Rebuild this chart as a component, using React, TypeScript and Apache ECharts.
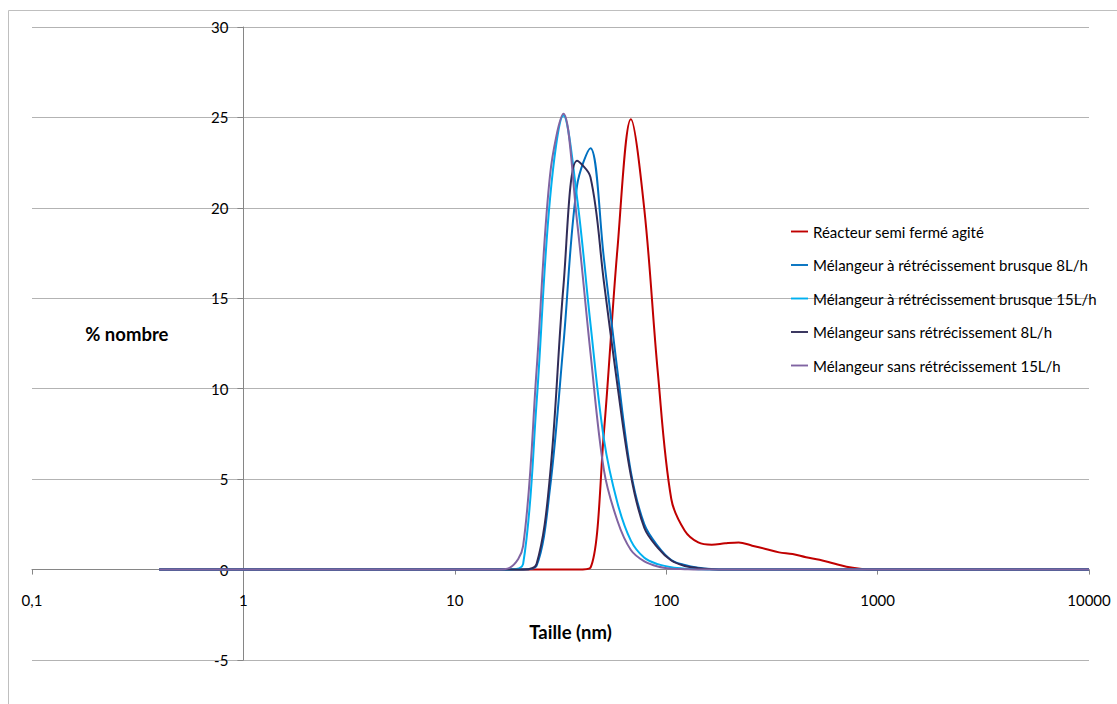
import React, { useEffect, useRef } from "react";
import * as echarts from "echarts";

// Size classes (nm)
const sizes = [
  0.4, 0.4632, 0.5365, 0.6213, 0.7195, 0.8332, 0.9649, 1.117, 1.294, 1.499,
  1.736, 2.01, 2.328, 2.696, 3.122, 3.615, 4.187, 4.849, 5.615, 6.503,
  7.531, 8.721, 10.1, 11.7, 13.54, 15.69, 18.17, 21.04, 24.36, 28.21,
  32.67, 37.84, 43.82, 50.75, 58.77, 68.06, 78.82, 91.28, 105.7, 122.4,
  141.8, 164.2, 190.1, 220.2, 255.0, 295.3, 342.0, 396.1, 458.7, 531.2,
  615.1, 712.4, 825.0, 955.4, 1106, 1281, 1484, 1718, 1990, 2305,
  2669, 3091, 3580, 4145, 4801, 5560, 6439, 7456, 8635, 10000,
];

const reacteur = [
  0, 0, 0, 0, 0, 0, 0, 0, 0, 0,
  0, 0, 0, 0, 0, 0, 0, 0, 0, 0,
  0, 0, 0, 0, 0, 0, 0, 0, 0, 0,
  0, 0, 0.1, 7.6, 17.7, 24.9, 19.9, 10.9, 3.9, 2.15,
  1.5, 1.37, 1.45, 1.5, 1.32, 1.14, 0.95, 0.86, 0.68, 0.54,
  0.35, 0.16, 0.05, 0, 0, 0, 0, 0, 0, 0,
  0, 0, 0, 0, 0, 0, 0, 0, 0, 0,
];

const brusque8 = [
  0, 0, 0, 0, 0, 0, 0, 0, 0, 0,
  0, 0, 0, 0, 0, 0, 0, 0, 0, 0,
  0, 0, 0, 0, 0, 0, 0, 0, 0.2, 4.5,
  12.5, 21.2, 23.3, 17.2, 11.0, 5.4, 2.5, 1.3, 0.53, 0.25,
  0.1, 0.03, 0, 0, 0, 0, 0, 0, 0, 0,
  0, 0, 0, 0, 0, 0, 0, 0, 0, 0,
  0, 0, 0, 0, 0, 0, 0, 0, 0, 0,
];

const brusque15 = [
  0, 0, 0, 0, 0, 0, 0, 0, 0, 0,
  0, 0, 0, 0, 0, 0, 0, 0, 0, 0,
  0, 0, 0, 0, 0, 0, 0, 0.3, 9.2, 20.5,
  25.1, 20.6, 13.6, 7.2, 3.7, 1.6, 0.65, 0.3, 0.13, 0.05,
  0.02, 0, 0, 0, 0, 0, 0, 0, 0, 0,
  0, 0, 0, 0, 0, 0, 0, 0, 0, 0,
  0, 0, 0, 0, 0, 0, 0, 0, 0, 0,
];

const sans8 = [
  0, 0, 0, 0, 0, 0, 0, 0, 0, 0,
  0, 0, 0, 0, 0, 0, 0, 0, 0, 0,
  0, 0, 0, 0, 0, 0, 0, 0, 0.3, 5.2,
  15.7, 22.6, 21.7, 15.9, 10.2, 5.2, 2.3, 1.2, 0.5, 0.2,
  0.08, 0.02, 0, 0, 0, 0, 0, 0, 0, 0,
  0, 0, 0, 0, 0, 0, 0, 0, 0, 0,
  0, 0, 0, 0, 0, 0, 0, 0, 0, 0,
];

const sans15 = [
  0, 0, 0, 0, 0, 0, 0, 0, 0, 0,
  0, 0, 0, 0, 0, 0, 0, 0, 0, 0,
  0, 0, 0, 0, 0, 0, 0.1, 1.3, 11.0, 21.8,
  25.2, 19.3, 12.0, 5.5, 2.7, 1.08, 0.45, 0.17, 0.05, 0.02,
  0, 0, 0, 0, 0, 0, 0, 0, 0, 0,
  0, 0, 0, 0, 0, 0, 0, 0, 0, 0,
  0, 0, 0, 0, 0, 0, 0, 0, 0, 0,
];

const seriesNames = [
  "Réacteur semi fermé agité",
  "Mélangeur à rétrécissement brusque 8L/h",
  "Mélangeur à rétrécissement brusque 15L/h",
  "Mélangeur sans rétrécissement 8L/h",
  "Mélangeur sans rétrécissement 15L/h",
];
const seriesValues = [reacteur, brusque8, brusque15, sans8, sans15];
const seriesColors = ["#c00000", "#0070c0", "#00b0f0", "#302c58", "#8064a2"];

const xTitle = "Taille (nm)";
const yTitle = "% nombre";

const FONT = "Lato, 'Open Sans', sans-serif";

export default function App() {
  const ref = useRef<HTMLDivElement>(null);

  useEffect(() => {
    if (!ref.current) return;
    const chart = echarts.init(ref.current, undefined, { renderer: "svg" });
    const fmtX = (v: number) =>
      String(Number(Number(v).toPrecision(6))).replace(".", ",");

    chart.setOption({
      animation: false,
      textStyle: { fontFamily: FONT, color: "#000" },
      graphic: [
        {
          type: "rect",
          shape: { x: 8.5, y: 10.5, width: 1120, height: 720 },
          style: { fill: "none", stroke: "#bfbfbf", lineWidth: 1 },
          silent: true,
          z: -10,
        },
      ],
      grid: { left: 32, right: 28, top: 27, bottom: 44, outerBoundsMode: "none", containLabel: false },
      legend: {
        orient: "vertical",
        left: 791,
        top: 224,
        padding: 0,
        itemWidth: 17,
        itemHeight: 14,
        itemGap: 18.5,
        icon: "path://M0,6 L18,6 L18,8 L0,8 Z",
        data: seriesNames.map((n, i) => ({
          name: n,
          itemStyle: { color: seriesColors[i] },
        })),
        textStyle: {
          fontFamily: FONT,
          fontSize: 15,
          color: "#000",
        },
      },
      xAxis: {
        type: "log",
        logBase: 10,
        min: 0.1,
        max: 10000,
        name: xTitle,
        nameLocation: "middle",
        nameGap: -38,
        nameTextStyle: {
          fontFamily: FONT,
          fontSize: 18.5,
          fontWeight: "bold",
          color: "#000",
          padding: [0, 0, 0, 20],
        },
        axisLine: { onZero: true, lineStyle: { color: "#868686", width: 1 } },
        axisTick: { show: true, inside: false, length: 5, lineStyle: { color: "#868686" } },
        minorTick: { show: false },
        axisLabel: {
          fontFamily: FONT,
          fontSize: 15,
          color: "#000",
          margin: -68,
          formatter: fmtX,
        },
        splitLine: { show: false },
      },
      yAxis: {
        type: "value",
        min: -5,
        max: 30,
        interval: 5,
        offset: -211.4,
        name: yTitle,
        nameLocation: "middle",
        nameRotate: 0,
        nameGap: 75,
        nameTextStyle: {
          fontFamily: FONT,
          fontSize: 18.5,
          fontWeight: "bold",
          color: "#000",
          align: "right",
          verticalAlign: "bottom",
        },
        axisLine: { show: true, lineStyle: { color: "#868686", width: 1 } },
        axisTick: { show: true, length: 6, lineStyle: { color: "#868686" } },
        axisLabel: { fontFamily: FONT, fontSize: 15, color: "#000", margin: 15 },
        splitLine: { show: true, lineStyle: { color: "#b3b3b3", width: 1 } },
      },
      series: seriesValues.map((vals, i) => ({
        name: seriesNames[i],
        type: "line",
        smooth: 0.35,
        symbol: "none",
        showSymbol: false,
        color: seriesColors[i],
        lineStyle: { color: seriesColors[i], width: 2 },
        data: sizes.map((s, j) => [s, vals[j]]),
      })),
    });
    return () => chart.dispose();
  }, []);

  return (
    <div
      ref={ref}
      style={{ position: "fixed", left: 0, top: 0, width: 1117, height: 704, background: "#fff" }}
    />
  );
}
